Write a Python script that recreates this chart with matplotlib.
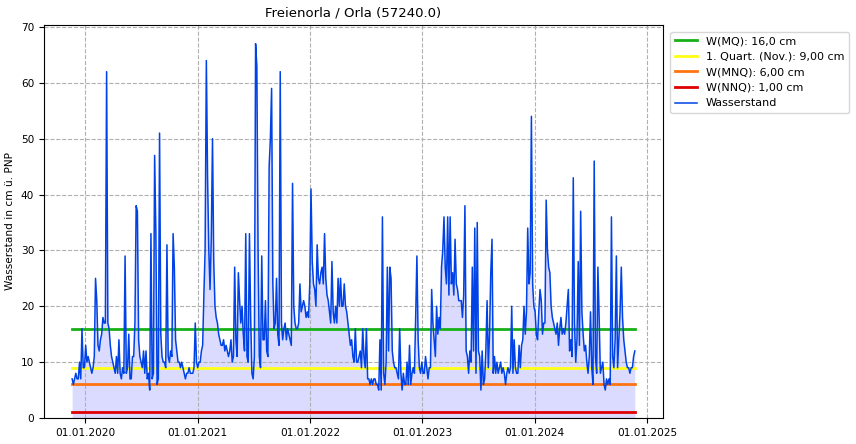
import numpy as np
import pandas as pd
import matplotlib
matplotlib.use("Agg")
import matplotlib.pyplot as plt
import matplotlib.dates as mdates

title = "Freienorla / Orla (57240.0)"
ylabel = "Wasserstand in cm ü. PNP"
start_date = "2019-11-20"
step_days = 4

w_mq = 16.0
q1_nov = 9.0
w_mnq = 6.0
w_nnq = 1.0

wasserstand = [
    7, 6, 7, 8, 7, 7, 10, 7, 16, 9, 9, 13, 10, 11, 10, 9, 8, 9, 11, 25,
    21, 13, 12, 14, 15, 18, 17, 17, 62, 17, 16, 13, 11, 10, 9, 8, 11, 8, 14, 8,
    7, 9, 8, 29, 8, 9, 15, 7, 7, 11, 11, 17, 38, 37, 14, 11, 10, 9, 12, 8,
    12, 7, 8, 5, 33, 7, 8, 47, 33, 6, 7, 51, 15, 11, 10, 10, 9, 31, 11, 10,
    12, 11, 33, 27, 14, 12, 10, 10, 9, 10, 9, 8, 7, 8, 8, 9, 8, 8, 8, 9,
    17, 10, 9, 10, 10, 12, 13, 22, 30, 64, 43, 30, 23, 32, 50, 28, 20, 18, 17, 15,
    14, 13, 13, 14, 12, 13, 12, 11, 12, 14, 10, 11, 27, 14, 11, 26, 21, 17, 20, 15,
    12, 33, 11, 10, 33, 18, 8, 7, 11, 67, 63, 30, 11, 9, 29, 14, 14, 21, 12, 11,
    45, 50, 59, 24, 16, 17, 25, 15, 13, 62, 17, 14, 16, 17, 14, 16, 15, 14, 13, 42,
    20, 17, 16, 16, 17, 24, 19, 20, 21, 20, 18, 19, 18, 24, 41, 28, 24, 23, 20, 31,
    25, 24, 26, 27, 24, 33, 25, 22, 21, 19, 17, 28, 19, 17, 20, 17, 25, 20, 25, 20,
    20, 24, 20, 19, 17, 15, 13, 14, 11, 10, 16, 10, 10, 11, 12, 9, 16, 11, 9, 16,
    7, 7, 6, 7, 6, 7, 7, 6, 6, 5, 14, 5, 36, 8, 6, 10, 27, 12, 27, 25,
    12, 10, 9, 9, 8, 7, 16, 8, 5, 8, 6, 6, 10, 6, 13, 6, 8, 9, 8, 18,
    29, 14, 9, 8, 10, 8, 8, 11, 9, 7, 9, 9, 23, 17, 14, 11, 20, 15, 18, 16,
    27, 30, 36, 27, 24, 36, 22, 36, 24, 26, 22, 32, 24, 23, 21, 21, 21, 18, 22, 38,
    12, 11, 8, 12, 10, 27, 12, 34, 8, 35, 12, 11, 5, 12, 6, 7, 12, 21, 9, 15,
    26, 32, 8, 11, 8, 10, 8, 9, 10, 8, 9, 8, 6, 8, 9, 8, 9, 20, 8, 14,
    9, 8, 8, 13, 9, 13, 14, 20, 15, 19, 34, 24, 26, 54, 24, 20, 19, 15, 14, 19,
    23, 21, 15, 17, 17, 39, 30, 27, 26, 20, 18, 17, 16, 15, 17, 13, 16, 18, 15, 16,
    15, 17, 20, 23, 12, 14, 11, 43, 17, 10, 14, 28, 13, 37, 19, 15, 12, 13, 10, 8,
    11, 19, 9, 6, 46, 11, 8, 27, 18, 8, 9, 10, 6, 5, 7, 6, 7, 6, 36, 11,
    9, 14, 29, 9, 14, 19, 27, 18, 14, 12, 10, 9, 9, 8, 9, 9, 11, 12,
]

dates = pd.date_range(start_date, periods=len(wasserstand), freq=f"{step_days}D")
values = np.array(wasserstand, dtype=float)

plt.rcParams['font.size'] = 7.6
fig = plt.figure(figsize=(8.56, 4.44), dpi=100)
ax = fig.add_axes([0.0514, 0.0586, 0.7231, 0.8851])

ax.fill_between(dates, values, 0, color="blue", alpha=0.14, linewidth=0)
ax.plot(dates, [w_mq] * len(dates), color="#17b117", lw=2, label="W(MQ): 16,0 cm")
ax.plot(dates, [q1_nov] * len(dates), color="#ffff14", lw=2, label="1. Quart. (Nov.): 9,00 cm")
ax.plot(dates, [w_mnq] * len(dates), color="#ff7410", lw=2, label="W(MNQ): 6,00 cm")
ax.plot(dates, [w_nnq] * len(dates), color="#e00000", lw=2, label="W(NNQ): 1,00 cm")
ax.plot(dates, values, color="#0042e6", lw=1.1, label="Wasserstand")

ax.set_ylim(bottom=0)
ax.set_title(title, fontsize=9.5)
ax.set_ylabel(ylabel)
ax.xaxis.set_major_locator(mdates.YearLocator())
ax.xaxis.set_major_formatter(mdates.DateFormatter("%d.%m.%Y"))
ax.set_yticks(range(0, 71, 10))
ax.grid(True, linestyle="--", color="#b0b0b0", lw=0.8)
ax.legend(loc="upper left", bbox_to_anchor=(1.003, 0.997), fontsize=8)

fig.savefig("out.png", dpi=100)
